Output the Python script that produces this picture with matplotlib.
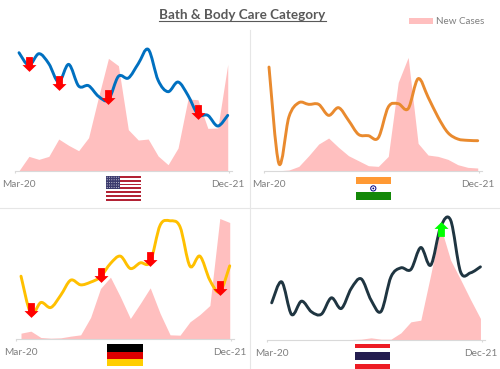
import matplotlib
matplotlib.use("Agg")
import matplotlib.pyplot as plt
from matplotlib.path import Path
from matplotlib.patches import PathPatch, Rectangle, Circle

plt.rcParams['font.family'] = ['Lato', 'DejaVu Sans']

W, H = 500, 369
months = list(range(22))
tick_labels = ["Mar-20", "Dec-21"]

us_line = [354,316,351,321,266,319,254,255,223,213,283,278,321,364,271,237,266,226,169,166,134,166]
us_area = [0,43,34,43,95,76,60,99,221,337,315,123,92,95,44,18,68,215,213,127,128,319]
in_line = [311,21,161,204,199,199,166,189,151,109,105,99,191,201,186,276,221,161,114,95,91,90]
in_area = [0,0,2,13,45,80,98,70,45,30,15,13,43,265,340,82,47,43,34,18,10,8]
de_line = [187,75,108,93,130,175,161,169,185,225,247,210,227,230,340,353,335,217,247,175,140,218]
de_area = [16,22,3,1,2,7,11,63,150,184,125,60,105,152,75,11,10,50,72,99,360,348]
th_line = [110,173,75,115,83,76,125,93,153,182,118,84,188,215,210,276,223,338,358,203,200,218]
th_area = [0,0,0,0,0,0,0,0,0,1,5,1,1,20,53,58,195,338,238,180,120,63]

us_arrows_x = [1,4,9,18];  us_arrows_y = [319,264,222,177]
de_arrows_x = [1,8,13,20]; de_arrows_y = [86,191,239,151]
th_arrows_x = [17];        th_arrows_y = [331]

AREA = '#ffbfbf'
GREY = '#7f7f7f'
AXIS = '#d9d9d9'

up = Path([(-3.4,-7.4),(3.4,-7.4),(3.4,0.6),(7.0,0.6),(0,7.4),(-7.0,0.6),(-3.4,0.6),(-3.4,-7.4)], closed=True)
down = Path([(x,-y) for x,y in up.vertices], closed=True)
MS = 14.8*0.72

fig = plt.figure(figsize=(W/100, H/100), dpi=100, facecolor='white')

def smooth(xs, ys):
    pts = list(zip(xs, ys))
    verts = [pts[0]]; codes = [Path.MOVETO]
    for i in range(len(pts)-1):
        p0 = pts[max(i-1,0)]; p1 = pts[i]; p2 = pts[i+1]; p3 = pts[min(i+2,len(pts)-1)]
        c1 = (p1[0]+(p2[0]-p0[0])/6, p1[1]+(p2[1]-p0[1])/6)
        c2 = (p2[0]-(p3[0]-p1[0])/6, p2[1]-(p3[1]-p1[1])/6)
        verts += [c1,c2,p2]; codes += [Path.CURVE4]*3
    return Path(verts, codes)

def panel(left, right, base, top, x0, step, line, area, color, ax_x=None, ax_y=None, marker=None, mcolor='red'):
    ax = fig.add_axes([left/W, 1-base/H, (right-left)/W, (base-top)/H])
    ax.patch.set_alpha(0)
    ax.set_xlim((left-x0)/step, (right-x0)/step)
    ax.set_ylim(0, (base-top)*3)
    ax.fill_between(months, area, 0, color=AREA, lw=0, zorder=1)
    ax.add_patch(PathPatch(smooth(months, line), fc='none', ec=color, lw=2.1,
                           capstyle='round', joinstyle='round', zorder=2))
    if ax_x:
        ax.plot(ax_x, ax_y, ls='none', marker=marker, ms=MS, mfc=mcolor, mec='none', zorder=3, clip_on=False)
    for s in ['top','left','right']:
        ax.spines[s].set_visible(False)
    ax.spines['bottom'].set_color(AXIS)
    ax.spines['bottom'].set_linewidth(0.8)
    ax.set_yticks([])
    ax.set_xticks([0, 21])
    ax.set_xticklabels(tick_labels, color=GREY, fontsize=7.3)
    ax.tick_params(axis='x', length=0, pad=7)
    ax.set_xticks([(left-x0)/step, (right-x0-3)/step], minor=True)
    ax.tick_params(axis='x', which='minor', length=1.5, color=AXIS, width=0.8)
    return ax

panel(14.7, 231.7, 170.7, 30, 19, 9.94, us_line, us_area, '#0070c0', us_arrows_x, us_arrows_y, down)
panel(264, 481.7, 170.7, 30, 269, 9.94, in_line, in_area, '#e98a2e')
panel(16, 233.5, 338.5, 212, 21, 9.94, de_line, de_area, '#ffc000', de_arrows_x, de_arrows_y, down)
panel(266.5, 485, 339.5, 212, 271.7, 9.94, th_line, th_area, '#1f3541', th_arrows_x, th_arrows_y, up, '#00ff00')

# overlay in pixel coordinates: dividers, flags, legend, title
ov = fig.add_axes([0,0,1,1], zorder=5)
ov.set_xlim(0,W); ov.set_ylim(H,0); ov.axis('off'); ov.patch.set_alpha(0)
ov.plot([249.5,249.5],[30,369], color='#e6e6e6', lw=0.8)
ov.plot([0,500],[208,208], color='#e6e6e6', lw=0.8)

def bands(x, y, w, hs, cols):
    for h, c in zip(hs, cols):
        ov.add_patch(Rectangle((x,y), w, h, fc=c, ec='none'))
        y += h

# USA
n = 13; sh = 24.6/n
bands(106, 176, 35, [sh]*n, ['#b22234' if i%2==0 else 'white' for i in range(n)])
ov.add_patch(Rectangle((106,176), 14, sh*7, fc='#3c3b6e', ec='none'))
for r in range(5):
    for c in range(6):
        ov.add_patch(Circle((107.2+c*2.3, 177.2+r*2.6), 0.45, fc='white', ec='none'))
# India
bands(355.7, 176.7, 35.3, [7.6,8,7.8], ['#ff9933','white','#138808'])
ov.add_patch(Circle((373.3,188.4), 2.6, fc='none', ec='#000080', lw=0.7))
ov.add_patch(Circle((373.3,188.4), 0.9, fc='#000080', ec='none'))
# Germany
bands(107.3, 344.3, 35.3, [7.3,7.3,7.2], ['#000000','#dd0000','#ffce00'])
# Thailand
bands(355, 344, 35, [4.2,4.2,7.8,4.2,4.2], ['#ed1c24','white','#241d4f','white','#ed1c24'])

# legend
ov.add_patch(Rectangle((409,18), 24, 6, fc=AREA, ec='none'))
ov.text(436, 21, "New Cases", color=GREY, fontsize=7.1, va='center', ha='left')

# title
t = ov.text(242.5, 15, "Bath & Body Care Category", color='#595959', fontsize=9.7,
            fontweight='bold', va='center', ha='center')
fig.canvas.draw()
bb = t.get_window_extent().transformed(ov.transData.inverted())
ov.plot([bb.x0, bb.x1], [21,21], color='#595959', lw=0.8)

fig.savefig('out.png', dpi=100)
